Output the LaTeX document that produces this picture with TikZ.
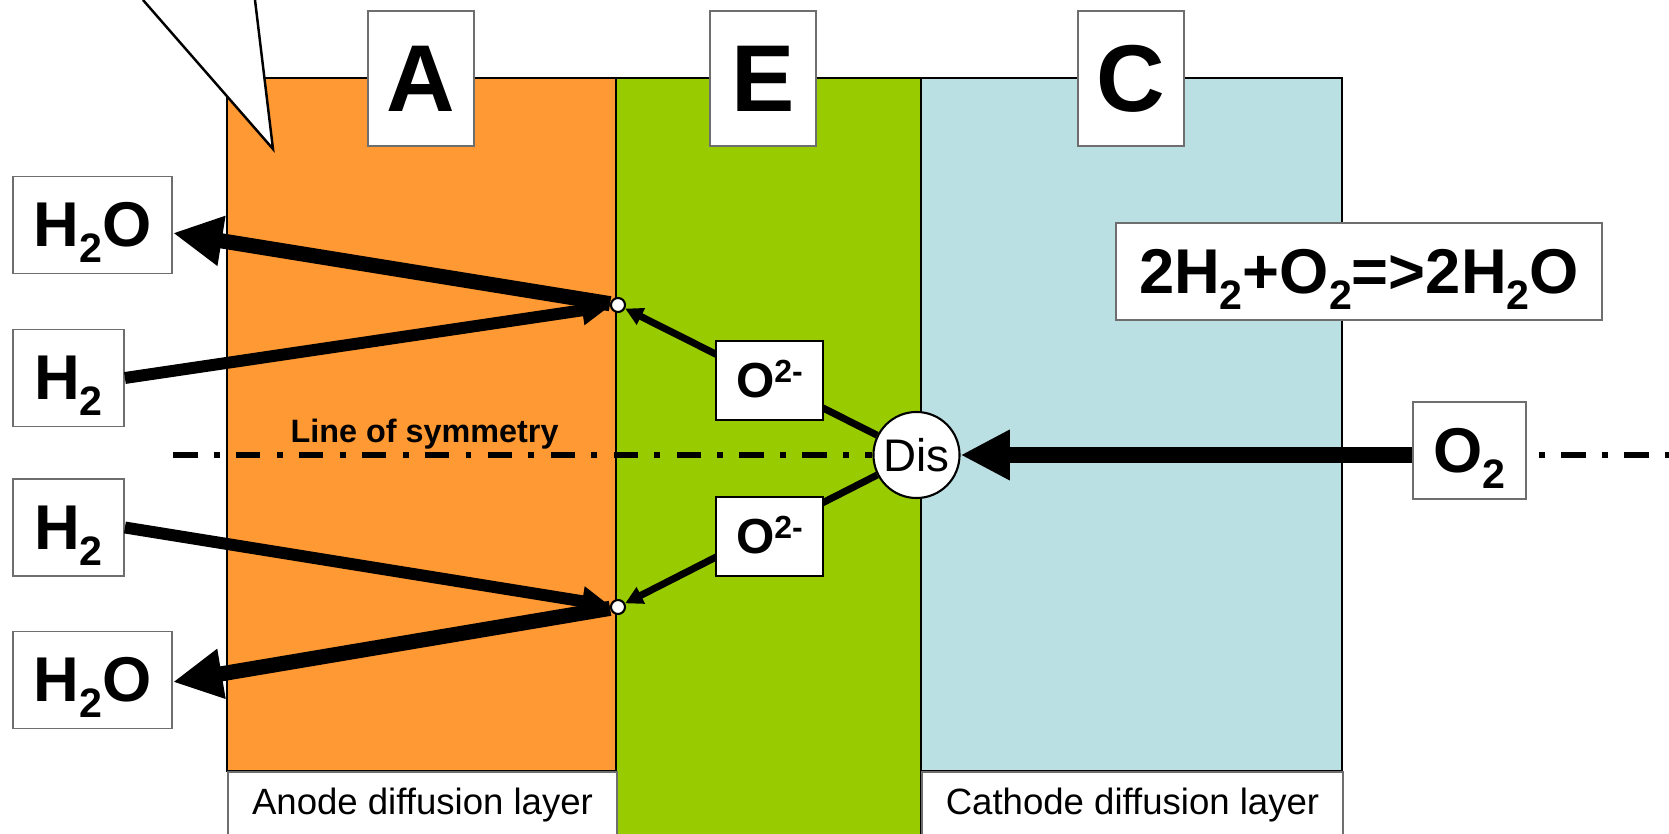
\documentclass[tikz,border=0pt]{standalone}
\usepackage{fontspec}
\setmainfont{Liberation Sans}
\usetikzlibrary{arrows.meta,positioning,calc}
\definecolor{fcOrange}{HTML}{FF9933}
\definecolor{fcGreen}{HTML}{99CC00}
\definecolor{fcBlue}{HTML}{BBE0E3}
\definecolor{fcGray}{HTML}{6E6E6E}
\newcommand{\chsub}[1]{\smash{\raisebox{-0.25em}{\scalebox{0.65}{#1}}}}
\newcommand{\chsup}[1]{\smash{\raisebox{0.3em}{\scalebox{0.65}{#1}}}}

\begin{document}
\begin{tikzpicture}[x=0.01cm,y=-0.01cm,
  layer/.style={draw=black,line width=0.6pt},
  tagbox/.style={draw=fcGray,fill=white,line width=0.5pt,inner sep=0pt},
  letterbox/.style={tagbox,minimum width=1.06cm,minimum height=1.35cm,font=\fontsize{27}{30}\selectfont\bfseries},
  chem/.style={tagbox,minimum height=0.97cm,font=\fontsize{18}{20}\selectfont\bfseries},
  ion/.style={tagbox,draw=black,minimum width=1.07cm,minimum height=0.79cm,font=\fontsize{14}{16}\selectfont\bfseries},
  junction/.style={circle,draw=black,fill=white,line width=0.6pt,minimum size=0.14cm,inner sep=0pt},
  bigflow/.style={line width=4.3pt,-{Triangle[length=14pt,width=13.4pt]}},
  feedflow/.style={line width=3.4pt,-{Triangle[length=8pt,width=8pt]}},
  ionflow/.style={line width=2pt,-{Triangle[length=5pt,width=5pt]}},
  symline/.style={line width=1.7pt,dash pattern=on 7pt off 4.6pt on 1.7pt off 4.6pt}]
  \useasboundingbox (0,0) rectangle (1669,834);
  \clip (0,0) rectangle (1669,834);

  % anode, cathode, electrolyte
  \filldraw[layer,fill=fcOrange] (227,78) rectangle (616,771);
  \filldraw[layer,fill=fcBlue] (921,78) rectangle (1342,771);
  \filldraw[layer,fill=fcGreen] (616,78) rectangle (921,850);

  % callout pointer coming in from above
  \fill[white] (143,-2) -- (273,149) -- (255,-2) -- cycle;
  \draw[line width=0.7pt] (143,0) -- (273,149) -- (255,0);

  % layer letters
  \foreach \x/\lab in {421/A,763/E,1131/C}{
    \node[letterbox] (box\lab) at (\x,78.5) {\lab};
  }

  % diffusion layer labels
  \node[tagbox,minimum width=3.89cm,minimum height=0.66cm,anchor=north west,
    font=\fontsize{10.4}{12}\selectfont] (anodeLbl) at (227,771) {Anode diffusion layer};
  \node[tagbox,minimum width=4.21cm,minimum height=0.66cm,anchor=north west,
    font=\fontsize{10.4}{12}\selectfont] (cathLbl) at (921,771) {Cathode diffusion layer};

  % species
  \node[chem,minimum width=1.59cm] (h2oTop) at (92.5,225) {H\chsub{2}O};
  \node[chem,minimum width=1.11cm] (h2Top) at (68.5,378) {H\chsub{2}};
  \node[chem,minimum width=1.11cm] (h2Bot) at (68.5,527.5) {H\chsub{2}};
  \node[chem,minimum width=1.59cm] (h2oBot) at (92.5,680) {H\chsub{2}O};
  \node[chem,minimum width=4.86cm] (reaction) at (1359,271.5) {2H\chsub{2}+O\chsub{2}=>2H\chsub{2}O};
  \node[chem,minimum width=1.13cm] (o2) at (1469.5,450.5) {O\chsub{2}};

  % dissociation site and the two reaction points
  \node[circle,draw=black,fill=white,line width=0.6pt,minimum size=0.86cm,inner sep=0pt,
    font=\fontsize{13}{15}\selectfont] (dis) at (916.5,455) {Dis};
  \node[junction] (jTop) at (618,305) {};
  \node[junction] (jBot) at (618,607) {};

  % symmetry axis
  \node[anchor=base west,inner sep=0pt,font=\fontsize{9.2}{11}\selectfont\bfseries] (symLbl) at (290,443) {Line of symmetry};
  \coordinate (symEnd) at (1669,455);
  \draw[symline] (h2oTop.east |- dis.west) -- (dis.west);
  \draw[symline,dash phase=8.2pt] (o2.east |- dis.east) -- (symEnd);

  % hydrogen in, water out
  \draw[bigflow] (jTop) -- ($(h2oTop.east)+(0,8)$);
  \draw[bigflow] (jBot) -- ($(h2oBot.east)+(0,2)$);
  \draw[feedflow] (h2Top.east) -- (jTop);
  \draw[feedflow] (h2Bot.east) -- (jBot);

  % oxide ions through the electrolyte
  \draw[ionflow] (dis) -- (jTop);
  \draw[ionflow] (dis) -- (jBot);
  \node[ion] (oxTop) at (769.5,380.5) {O\chsup{2-}};
  \node[ion] (oxBot) at (769.5,536.5) {O\chsup{2-}};

  % oxygen feed
  \draw[bigflow] (o2.west |- dis.east) -- (dis.east);
\end{tikzpicture}
\end{document}
